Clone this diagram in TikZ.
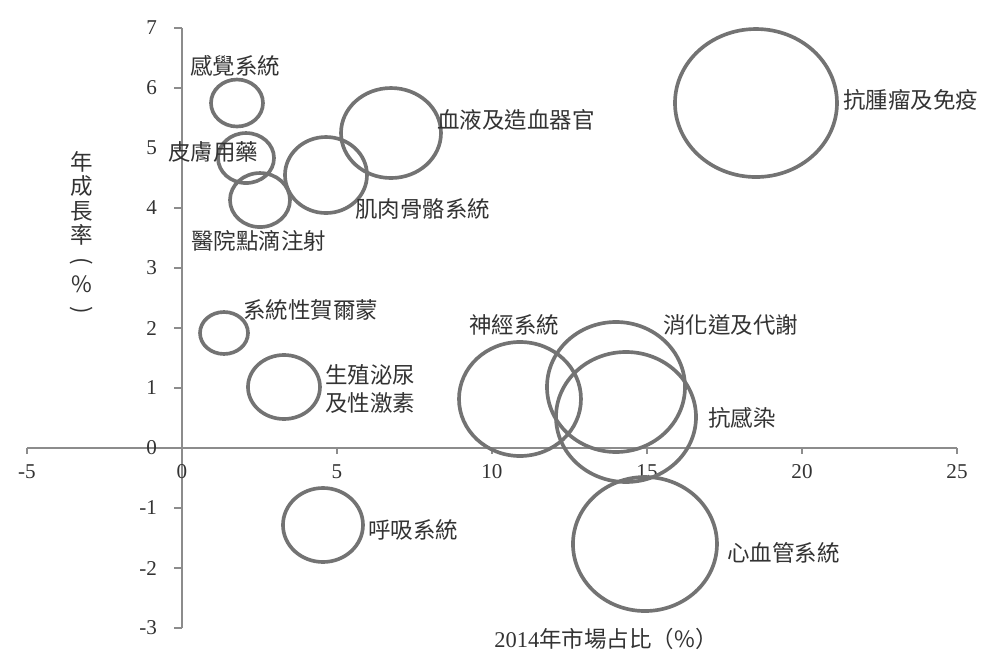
\documentclass[tikz,border=0pt]{standalone}
\usepackage{fontspec}
\usepackage{graphicx}
\setmainfont{Liberation Serif}
\newfontfamily\cjk{Noto Sans CJK TC}
\usetikzlibrary{shapes.geometric}
\definecolor{bubblegray}{gray}{0.45}
\definecolor{axisgray}{gray}{0.55}
\definecolor{labelgray}{gray}{0.2}

\begin{document}
\begin{tikzpicture}[x=0.775cm,y=1.5cm,
    bubble/.style={draw=bubblegray,line width=2.6pt,ellipse,inner sep=0pt},
    bublabel/.style={anchor=west,inner sep=0pt,text=labelgray,font=\cjk\fontsize{16}{19}\selectfont},
    ticklab/.style={inner sep=0pt,text=labelgray,font=\fontsize{15}{17}\selectfont},
    axisline/.style={draw=axisgray,line width=1.6pt}]
        \useasboundingbox (-5.871,-3.383) rectangle (25.968,7.467);
        % axes
        \coordinate (xmin) at (-5,0);
        \coordinate (xmax) at (25,0);
        \coordinate (ymin) at (0,-3);
        \coordinate (ymax) at (0,7);
        \draw[axisline] (xmin) -- (xmax) (ymin) -- (ymax);
        \draw[axisline]
            (-5,0) -- (-5,-0.1) (5,0) -- (5,-0.1) (10,0) -- (10,-0.1)
            (15,0) -- (15,-0.1) (20,0) -- (20,-0.1) (25,0) -- (25,-0.1)
            %
            (0,7) -- (-0.26,7) (0,6) -- (-0.26,6) (0,5) -- (-0.26,5)
            (0,4) -- (-0.26,4) (0,3) -- (-0.26,3) (0,2) -- (-0.26,2)
            (0,1) -- (-0.26,1) (0,0) -- (-0.26,0) (0,-1) -- (-0.26,-1)
            (0,-2) -- (-0.26,-2) (0,-3) -- (-0.26,-3)
            ;
        \node[ticklab] (xm5) at (-5,-0.4) {-5};
        \node[ticklab] (x0) at (0,-0.4) {0};
        \node[ticklab] (x5) at (5,-0.4) {5};
        \node[ticklab] (x10) at (10,-0.4) {10};
        \node[ticklab] (x15) at (15,-0.4) {15};
        \node[ticklab] (x20) at (20,-0.4) {20};
        \node[ticklab] (x25) at (25,-0.4) {25};
        \node[ticklab,anchor=east] (y7) at (-0.8,7) {7};
        \node[ticklab,anchor=east] (y6) at (-0.8,6) {6};
        \node[ticklab,anchor=east] (y5) at (-0.8,5) {5};
        \node[ticklab,anchor=east] (y4) at (-0.8,4) {4};
        \node[ticklab,anchor=east] (y3) at (-0.8,3) {3};
        \node[ticklab,anchor=east] (y2) at (-0.8,2) {2};
        \node[ticklab,anchor=east] (y1) at (-0.8,1) {1};
        \node[ticklab,anchor=east] (y0) at (-0.8,0) {0};
        \node[ticklab,anchor=east] (ym1) at (-0.8,-1) {-1};
        \node[ticklab,anchor=east] (ym2) at (-0.8,-2) {-2};
        \node[ticklab,anchor=east] (ym3) at (-0.8,-3) {-3};
        \node[ticklab,align=center,font=\cjk\fontsize{16}{17.4}\selectfont] (ytitle) at (-3.226,3.567)
            {年\\成\\長\\率\\\rotatebox[origin=c]{-90}{(}\\\%\\\rotatebox[origin=c]{-90}{)}};
        \node[ticklab] (xtitle) at (13.677,-3.19)
            {\fontsize{16}{19}\selectfont 2014{\cjk 年市場占比（\%）}};
        % bubbles
        \node[bubble,minimum width=1.3cm,minimum height=1.175cm] (sense) at (1.774,5.75) {};
        \node[bubble,minimum width=1.4cm,minimum height=1.25cm] (skin) at (2.065,4.833) {};
        \node[bubble,minimum width=1.5cm,minimum height=1.35cm] (drip) at (2.516,4.133) {};
        \node[bubble,minimum width=2.05cm,minimum height=1.9cm] (muscle) at (4.645,4.55) {};
        \node[bubble,minimum width=2.5cm,minimum height=2.25cm] (blood) at (6.742,5.25) {};
        \node[bubble,minimum width=4.05cm,minimum height=3.7cm] (tumor) at (18.516,5.75) {};
        \node[bubble,minimum width=1.2cm,minimum height=1.05cm] (hormone) at (1.355,1.917) {};
        \node[bubble,minimum width=1.8cm,minimum height=1.6cm] (uro) at (3.29,1.017) {};
        \node[bubble,minimum width=2.0cm,minimum height=1.85cm] (resp) at (4.548,-1.283) {};
        \node[bubble,minimum width=3.05cm,minimum height=2.85cm] (nerve) at (10.903,0.817) {};
        \node[bubble,minimum width=3.45cm,minimum height=3.25cm] (digest) at (14.0,1.017) {};
        \node[bubble,minimum width=3.5cm,minimum height=3.25cm] (infect) at (14.323,0.517) {};
        \node[bubble,minimum width=3.6cm,minimum height=3.35cm] (cardio) at (14.935,-1.6) {};
        % labels
        \node[bublabel] (lsense) at (0.258,6.367) {感覺系統};
        \node[bublabel] (lskin) at (-0.452,4.933) {皮膚用藥};
        \node[bublabel] (ldrip) at (0.29,3.45) {醫院點滴注射};
        \node[bublabel] (lmuscle) at (5.58,3.983) {肌肉骨骼系統};
        \node[bublabel] (lblood) at (8.226,5.467) {血液及造血器官};
        \node[bublabel] (ltumor) at (21.323,5.8) {抗腫瘤及免疫};
        \node[bublabel] (lhormone) at (1.968,2.3) {系統性賀爾蒙};
        \node[bublabel,align=left,font=\cjk\fontsize{16}{20}\selectfont] (luro) at (4.613,0.983) {生殖泌尿\\及性激素};
        \node[bublabel] (lresp) at (6.0,-1.367) {呼吸系統};
        \node[bublabel] (lnerve) at (9.258,2.05) {神經系統};
        \node[bublabel] (ldigest) at (15.516,2.05) {消化道及代謝};
        \node[bublabel] (linfect) at (16.968,0.5) {抗感染};
        \node[bublabel] (lcardio) at (17.58,-1.75) {心血管系統};
    \end{tikzpicture}
\end{document}
